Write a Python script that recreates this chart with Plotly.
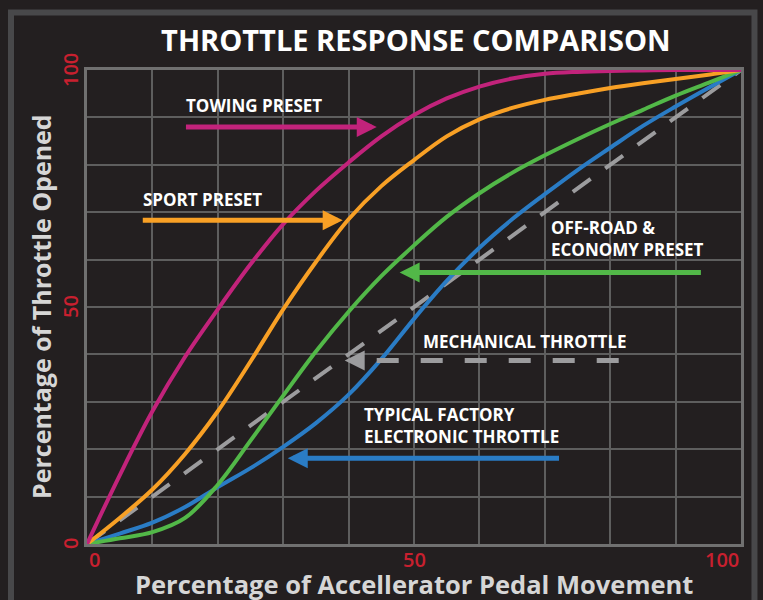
import plotly.graph_objects as go

# ---- data ----
pedal = [0, 5, 10, 15, 20, 25, 30, 35, 40, 45, 50, 55, 60, 65, 70, 75, 80, 85, 90, 95, 100]
towing = [0, 14.5, 28, 39.5, 49.5, 59, 67.5, 74.5, 80.5, 86, 90.5, 94, 96.5, 98.2, 99.2, 99.6, 99.8, 99.9, 100, 100, 100]
sport = [0, 5.5, 11.5, 19, 28, 38.5, 49.5, 59.5, 68.5, 75.5, 81, 86, 89.6, 92, 93.7, 95, 96.2, 97.2, 98.1, 99, 100]
offroad = [0, 1.2, 2.5, 5.5, 12.5, 21.8, 31.3, 40.6, 49, 56.5, 63, 69, 74, 78.3, 82, 85.4, 88.6, 91.6, 94.6, 97.3, 100]
factory = [0, 2.2, 4.5, 7.8, 12, 16, 20.5, 25.5, 31.5, 39, 47.5, 55.5, 62.5, 68.5, 73.8, 78.9, 83.6, 88.2, 92.3, 96.2, 100]
mech_x = [0, 100]
mech_y = [0, 100]

x_ticks = [0, 50, 100]
y_ticks = [0, 50, 100]

title_text = "THROTTLE RESPONSE COMPARISON"
x_title = "Percentage of Accellerator Pedal Movement"
y_title = "Percentage of Throttle Opened"

# label text, text position (x, y), arrow tail (x, y), arrow tip (x, y)
labels = [
    ("TOWING PRESET", (14.9, 92.6), (14.9, 88.0), (44.3, 88.0)),
    ("SPORT PRESET", (8.3, 72.6), (8.3, 68.3), (39.1, 68.3)),
    ("OFF-ROAD &<br>ECONOMY PRESET", (70.6, 64.5), (94.1, 57.3), (47.8, 57.3)),
    ("MECHANICAL THROTTLE", (51.1, 42.8), (83.0, 38.7), (39.4, 38.7)),
    ("TYPICAL FACTORY<br>ELECTRONIC THROTTLE", (42.0, 25.0), (72.4, 18.1), (30.7, 18.1)),
]

BG = "#231f20"
MAGENTA = "#c2237b"
ORANGE = "#f8a025"
GREEN = "#52b848"
BLUE = "#2a7cc5"
GRAY = "#9c9c9e"
colors = [MAGENTA, ORANGE, GREEN, GRAY, BLUE]
FONT = "Open Sans"

fig = go.Figure()

fig.add_trace(go.Scatter(x=mech_x, y=mech_y, mode="lines",
                         line=dict(color=GRAY, width=4, dash="22px,18px"),
                         hoverinfo="skip"))
for ys, c in [(factory, BLUE), (offroad, GREEN), (sport, ORANGE), (towing, MAGENTA)]:
    fig.add_trace(go.Scatter(x=pedal, y=ys, mode="lines",
                             line=dict(color=c, width=4, shape="spline", smoothing=1.0),
                             hoverinfo="skip"))

annotations = []
for (txt, tpos, tail, tip), c in zip(labels, colors):
    annotations.append(dict(x=tpos[0], y=tpos[1], xref="x", yref="y", text=txt,
                            showarrow=False, xanchor="left", yanchor="middle", align="left",
                            font=dict(family=FONT, size=17, color="white", weight="bold")))
    if c == GRAY:
        # dashed shaft drawn as a line trace, solid head as an annotation
        fig.add_trace(go.Scatter(x=[tip[0] + 4.9, tail[0]], y=[tail[1], tail[1]], mode="lines",
                                 line=dict(color=GRAY, width=5, dash="22px,22px"),
                                 hoverinfo="skip"))
        annotations.append(dict(x=tip[0], y=tip[1], ax=tip[0] + 3.0, ay=tip[1],
                                xref="x", yref="y", axref="x", ayref="y", text="",
                                showarrow=True, arrowhead=2, arrowsize=0.8, arrowwidth=5,
                                arrowcolor=c, standoff=0))
    else:
        annotations.append(dict(x=tip[0], y=tip[1], ax=tail[0], ay=tail[1],
                                xref="x", yref="y", axref="x", ayref="y", text="",
                                showarrow=True, arrowhead=2, arrowsize=0.8, arrowwidth=5,
                                arrowcolor=c, standoff=0))

# tick labels
tick_font = dict(family=FONT, size=20, color="#c8202f", weight=600)
for v in x_ticks:
    anchor = "left" if v == min(x_ticks) else ("right" if v == max(x_ticks) else "center")
    annotations.append(dict(x=v, y=-0.032, xref="x", yref="paper", text=str(v),
                            showarrow=False, xanchor=anchor, yanchor="middle", font=tick_font))
for v in y_ticks:
    annotations.append(dict(x=0, y=v, xref="paper", yref="y", text=str(v), xshift=-17,
                            showarrow=False, xanchor="center", yanchor="middle",
                            textangle=-90, font=tick_font))

# axis titles
annotations.append(dict(x=0.5, y=-0.085, xref="paper", yref="paper", text=x_title,
                        showarrow=False, xanchor="center", yanchor="middle",
                        font=dict(family=FONT, size=25.5, color="#d6d6d6", weight="bold")))
annotations.append(dict(x=-0.0703, y=0.5, xref="paper", yref="paper", text=y_title,
                        showarrow=False, xanchor="center", yanchor="middle", textangle=-90,
                        font=dict(family=FONT, size=25, color="#d6d6d6", weight="bold")))

axis_common = dict(range=[0, 100], dtick=10, showgrid=True, gridcolor="#5e5e5e", gridwidth=1.5,
                   showline=True, linecolor="#707070", linewidth=3, mirror=True,
                   zeroline=False, showticklabels=False, ticks="", fixedrange=True)

fig.update_layout(
    width=763, height=600,
    paper_bgcolor=BG, plot_bgcolor=BG,
    margin=dict(l=87, r=22, t=70, b=56),
    showlegend=False,
    title=dict(text=title_text, x=0.545, xref="container", xanchor="center",
               y=0.932, yref="container", yanchor="middle",
               font=dict(family=FONT, size=29, color="white", weight="bold")),
    xaxis=axis_common,
    yaxis=axis_common,
    annotations=annotations,
    shapes=[dict(type="rect", xref="paper", yref="paper",
                 x0=-0.1162, x1=1.0206, y0=-0.14, y1=1.1213,
                 line=dict(color="#48484a", width=6), fillcolor="rgba(0,0,0,0)", layer="below")],
)

fig.write_html("out.html", config={"displayModeBar": False},
               post_script="document.body.style.margin='0';document.body.style.background='#231f20';")
